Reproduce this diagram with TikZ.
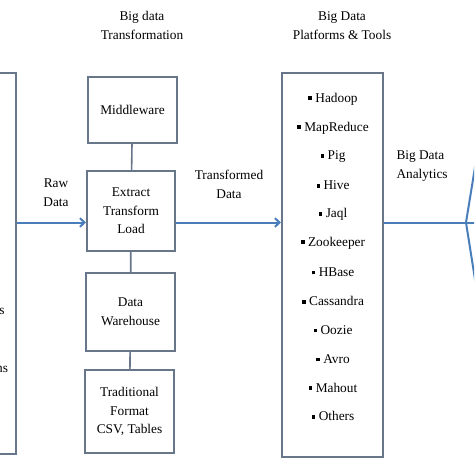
\documentclass[tikz,border=0pt]{standalone}
\usepackage{fontspec}
\setmainfont{Liberation Serif}
\usetikzlibrary{arrows.meta}

\definecolor{boxline}{RGB}{104,118,138}
\definecolor{flowblue}{RGB}{74,126,187}
\newcommand{\sqbul}{\raisebox{1.5pt}{\rule{2.8pt}{2.8pt}}\hspace{2.5pt}}

\tikzset{every picture/.style={line width=0.75pt}}
\tikzset{
  blockbox/.style={draw=boxline, line width=1.5pt, fill=white, align=center, inner sep=0pt, font=\fontsize{10}{14}\selectfont},
  linkline/.style={draw=boxline, line width=1.2pt},
  arrowline/.style={draw=flowblue, line width=1.5pt, -{Straight Barb[length=3.5pt,width=6.5pt]}},
  fanline/.style={draw=flowblue, line width=1.5pt},
  labeltext/.style={inner sep=0.75pt, align=center, font=\fontsize{10}{14}\selectfont}
}

\begin{document}
\begin{tikzpicture}[x=0.75pt,y=0.75pt,yscale=-1,xscale=1]
        \useasboundingbox (0,0) rectangle (474,474);
        \fill [white] (0,0) rectangle (474,474);
        \clip (0,0) rectangle (474,474);

        %Shape: Rectangle [id:src] 
        \draw (-32,263.5) node [blockbox, minimum width=72pt, minimum height=285.75pt] (src) {};
        % Text Node
        \draw (6,311) node [labeltext, anchor=east] (srcA) {s};
        % Text Node
        \draw (9.5,369) node [labeltext, anchor=east] (srcB) {ns};

        %Shape: Rectangle [id:mid] 
        \draw (132.5,110) node [blockbox, minimum width=66.75pt, minimum height=49.5pt] (mid) {Middleware};
        %Shape: Rectangle [id:etl] 
        \draw (131,211) node [blockbox, minimum width=66pt, minimum height=60pt] (etl) {Extract\\Transform\\Load};
        %Shape: Rectangle [id:dw] 
        \draw (130.5,312) node [blockbox, minimum width=66.75pt, minimum height=58.5pt] (dw) {Data\\Warehouse};
        %Shape: Rectangle [id:trad] 
        \draw (129.5,411.5) node [blockbox, minimum width=66.75pt, minimum height=62.25pt] (trad) {Traditional\\Format\\CSV, Tables};
        %Shape: Rectangle [id:tools] 
        \draw (332.5,265) node [blockbox, minimum width=75.75pt, minimum height=288pt] (tools) {};

        %Straight Lines [id:links] 
        \draw [linkline] (mid) -- (etl);
        \draw [linkline] (etl) -- (dw);
        \draw [linkline] (dw) -- (trad);

        % Text Node
        \draw (142,25.5) node [labeltext] (ttrans) {Big data\\Transformation};
        % Text Node
        \draw (342,25.5) node [labeltext] (ttools) {Big Data\\Platforms \& Tools};
        % Text Node
        \draw (56,192.5) node [labeltext] (lraw) {Raw\\Data};
        % Text Node
        \draw (229,184.5) node [labeltext] (ltrans) {Transformed\\Data};
        % Text Node
        \draw (395,166) node [labeltext, anchor=west, align=left] (lana) {Big Data\\Analytics};

        % Text Node
        \draw (333,99) node [labeltext] (t1) {\sqbul Hadoop};
        % Text Node
        \draw (333,128) node [labeltext] (t2) {\sqbul MapReduce};
        % Text Node
        \draw (333,157) node [labeltext] (t3) {\sqbul Pig};
        % Text Node
        \draw (333,185.5) node [labeltext] (t4) {\sqbul Hive};
        % Text Node
        \draw (333,214.5) node [labeltext] (t5) {\sqbul Jaql};
        % Text Node
        \draw (333,243) node [labeltext] (t6) {\sqbul Zookeeper};
        % Text Node
        \draw (333,272) node [labeltext] (t7) {\sqbul HBase};
        % Text Node
        \draw (333,301) node [labeltext] (t8) {\sqbul Cassandra};
        % Text Node
        \draw (333,330) node [labeltext] (t9) {\sqbul Oozie};
        % Text Node
        \draw (333,359) node [labeltext] (t10) {\sqbul Avro};
        % Text Node
        \draw (333,387.5) node [labeltext] (t11) {\sqbul Mahout};
        % Text Node
        \draw (333,416) node [labeltext] (t12) {\sqbul Others};

        %Straight Lines [id:flow] 
        \coordinate (lvl) at (0,222.5);
        \coordinate (fan) at (466,222.5);
        \coordinate (fanU) at (477,155);
        \coordinate (fanD) at (477,292);
        \coordinate (fanR) at (480,222.5);
        \draw [arrowline] (src.east |- lvl) -- (etl.west |- lvl);
        \draw [arrowline] (etl.east |- lvl) -- (tools.west |- lvl);
        \draw [fanline] (tools.east |- lvl) -- (fan) -- (fanR);
        \draw [fanline] (fan) -- (fanU);
        \draw [fanline] (fan) -- (fanD);

    \end{tikzpicture}
\end{document}
